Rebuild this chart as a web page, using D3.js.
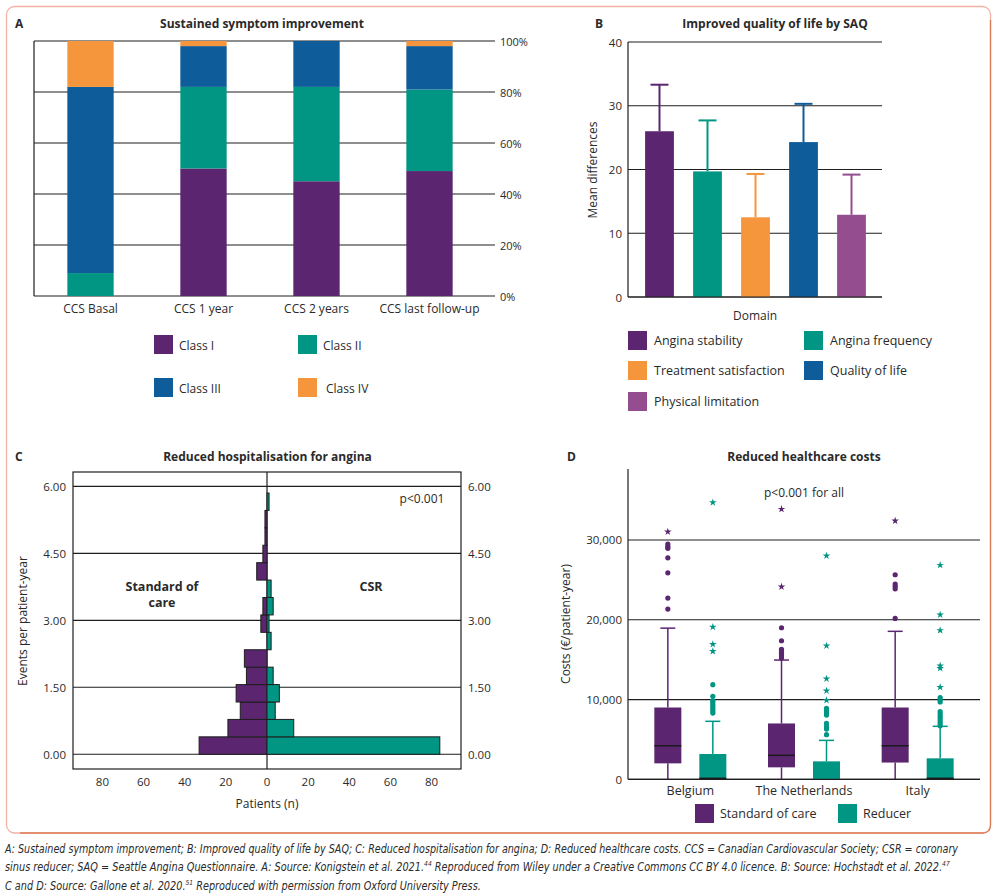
<!DOCTYPE html>
<html>
<head>
<meta charset="utf-8">
<script src="https://cdn.jsdelivr.net/npm/d3@7"></script>
<style>
  html, body { margin: 0; padding: 0; background: #fff; }
  svg { display: block; }
  text { font-family: "Open Sans", "Noto Sans", sans-serif; fill: #2a2a2a; }
</style>
</head>
<body>
<svg id="chart" width="997" height="896"></svg>
<script>
// ---------------- DATA ----------------
// Panel A
const ccsCategories = ["CCS Basal", "CCS 1 year", "CCS 2 years", "CCS last follow-up"];
const ccsClasses = ["Class I", "Class II", "Class III", "Class IV"];
const classI   = [0, 50, 45, 49];
const classII  = [9, 32, 37, 32];
const classIII = [73, 16, 18, 17];
const classIV  = [18, 2, 0, 2];
const pctTicks = [0, 20, 40, 60, 80, 100];

// Panel B
const saqDomains = ["Angina stability", "Angina frequency", "Treatment satisfaction", "Quality of life", "Physical limitation"];
const saqMeans = [26.0, 19.7, 12.5, 24.3, 12.9];
const saqUpper = [33.3, 27.7, 19.3, 30.3, 19.2];
const saqTicks = [0, 10, 20, 30, 40];

// Panel C
const hospBinWidth = 0.39;
const hospSoc = [33, 19, 13, 15, 10, 11, 0, 3, 2, 0, 5, 2, 1, 1, 0];
const hospCsr = [84, 13, 4, 6, 3, 0, 2, 1, 3, 2, 0, 0, 0, 0, 1];
const hospYTicks = [0, 1.5, 3, 4.5, 6];
const hospXTicks = [-80, -60, -40, -20, 0, 20, 40, 60, 80];

// Panel D
const countries = ["Belgium", "The Netherlands", "Italy"];
const costGroups = ["Standard of care", "Reducer"];
const costTicks = [0, 10000, 20000, 30000];
// [country][group] box stats
const boxMin    = [[0, 0], [0, 0], [0, 0]];
const boxQ1     = [[2000, 0], [1500, 0], [2100, 0]];
const boxMedian = [[4200, 120], [3000, 0], [4200, 120]];
const boxQ3     = [[9000, 3170], [7000, 2250], [9000, 2630]];
const boxMax    = [[18950, 7270], [14950, 4880], [18550, 6640]];
const outlierCircles = [
  [[21340, 22720, 25890, 27770, 28950, 29200, 29500],
   [8300, 8550, 8800, 9050, 9300, 9600, 9850, 10400, 11860]],
  [[15200, 15500, 15800, 16000, 16300, 17370, 19000],
   [5600, 6300, 6600, 7000, 8050, 8300, 8600, 8900]],
  [[20170, 23880, 24200, 24470, 25640],
   [6700, 7000, 7300, 7600, 7900, 8200, 8500, 9700, 9950, 10250]]
];
const outlierStars = [
  [[31030], [16040, 16920, 19090, 34710]],
  [[24140, 33870], [9900, 11100, 12610, 16740, 28020]],
  [[32400], [11530, 13910, 14240, 18670, 20630, 26850]]
];

// ---------------- STYLE ----------------
const PURPLE = "#5b2570", TEAL = "#009683", BLUE = "#0f5c9a", ORANGE = "#f5963c", LPURPLE = "#944d8f";
const classColors = [PURPLE, TEAL, BLUE, ORANGE];
const saqColors = [PURPLE, TEAL, ORANGE, BLUE, LPURPLE];
const groupColors = [PURPLE, TEAL];
const LINE = "#1e1e1e";

const svg = d3.select("#chart");
svg.append("rect").attr("width", 997).attr("height", 896).attr("fill", "#fff");

// Panel frame
svg.append("rect").attr("x", 6.5).attr("y", 6.5).attr("width", 984).attr("height", 826.5)
  .attr("rx", 8).attr("fill", "none").attr("stroke", "#f1b2a4").attr("stroke-width", 1.3);
svg.append("path")
  .attr("d", "M990.5,20 L990.5,825 Q990.5,833 982.5,833 L20,833")
  .attr("fill", "none").attr("stroke", "#dd7d57").attr("stroke-width", 1.3);

function title(x, y, t) {
  svg.append("text").attr("x", x).attr("y", y).attr("text-anchor", "middle")
    .attr("dominant-baseline", "central").attr("font-size", 12).attr("font-weight", 700)
    .attr("fill", "#222").text(t);
}
function letter(x, y, t) {
  svg.append("text").attr("x", x).attr("y", y).attr("dominant-baseline", "central")
    .attr("font-size", 12).attr("font-weight", 700).attr("fill", "#222").text(t);
}

// ================= PANEL A =================
{
  letter(15, 23, "A");
  title(262, 23, "Sustained symptom improvement");
  const x = d3.scaleBand().domain(ccsCategories).range([34, 486]).paddingInner(0.59).paddingOuter(0.295);
  const y = d3.scaleLinear().domain([0, 100]).range([296, 41]);
  const g = svg.append("g");
  g.selectAll("line.grid").data(pctTicks).join("line")
    .attr("x1", 34).attr("x2", 495).attr("y1", d => y(d)).attr("y2", d => y(d))
    .attr("stroke", LINE).attr("stroke-width", 1.2);
  g.append("line").attr("x1", 34).attr("x2", 34).attr("y1", y(100)).attr("y2", y(0))
    .attr("stroke", LINE).attr("stroke-width", 1.2);
  g.selectAll("text.pt").data(pctTicks).join("text")
    .attr("x", 500).attr("y", d => y(d)).attr("dominant-baseline", "central")
    .attr("font-size", 11).text(d => d + "%");
  const table = ccsCategories.map((c, i) => ({cat: c, "Class I": classI[i], "Class II": classII[i], "Class III": classIII[i], "Class IV": classIV[i]}));
  const stack = d3.stack().keys(ccsClasses)(table);
  stack.forEach((s, si) => {
    g.selectAll(null).data(s).join("rect")
      .attr("x", d => x(d.data.cat)).attr("width", x.bandwidth())
      .attr("y", d => y(d[1])).attr("height", d => y(d[0]) - y(d[1]))
      .attr("fill", classColors[si]);
  });
  g.selectAll("text.cat").data(ccsCategories).join("text")
    .attr("x", d => x(d) + x.bandwidth() / 2).attr("y", 308).attr("text-anchor", "middle")
    .attr("dominant-baseline", "central").attr("font-size", 12).text(d => d);
  const lx = [154, 298], ly = [335, 378];
  ccsClasses.forEach((c, i) => {
    const cx = lx[i % 2], cy = ly[Math.floor(i / 2)];
    g.append("rect").attr("x", cx).attr("y", cy).attr("width", 19).attr("height", 19).attr("fill", classColors[i]);
    g.append("text").attr("x", cx + 25 + (i === 3 ? 3 : 0)).attr("y", cy + 10).attr("dominant-baseline", "central")
      .attr("font-size", 12).text(c);
  });
}

// ================= PANEL B =================
{
  letter(595, 23, "B");
  title(775, 23, "Improved quality of life by SAQ");
  const x = d3.scaleBand().domain(saqDomains).range([635.5, 875.5]).paddingInner(0.4).paddingOuter(0.2);
  const y = d3.scaleLinear().domain([0, 40]).range([297, 42]);
  const g = svg.append("g");
  g.selectAll("line.grid").data(saqTicks).join("line")
    .attr("x1", 628).attr("x2", 882).attr("y1", d => y(d)).attr("y2", d => y(d))
    .attr("stroke", LINE).attr("stroke-width", 1.2);
  g.append("line").attr("x1", 628).attr("x2", 628).attr("y1", y(40)).attr("y2", y(0))
    .attr("stroke", LINE).attr("stroke-width", 1.2);
  g.selectAll("text.t").data(saqTicks).join("text")
    .attr("x", 622).attr("y", d => y(d)).attr("text-anchor", "end").attr("dominant-baseline", "central")
    .attr("font-size", 11.5).text(d => d);
  saqDomains.forEach((d, i) => {
    const cx = x(d) + x.bandwidth() / 2;
    g.append("line").attr("x1", cx).attr("x2", cx).attr("y1", y(saqMeans[i])).attr("y2", y(saqUpper[i]))
      .attr("stroke", saqColors[i]).attr("stroke-width", 2);
    g.append("line").attr("x1", cx - 9).attr("x2", cx + 9).attr("y1", y(saqUpper[i])).attr("y2", y(saqUpper[i]))
      .attr("stroke", saqColors[i]).attr("stroke-width", 2);
    g.append("rect").attr("x", x(d)).attr("width", x.bandwidth()).attr("y", y(saqMeans[i]))
      .attr("height", y(0) - y(saqMeans[i])).attr("fill", saqColors[i]);
  });
  g.append("line").attr("x1", 628).attr("x2", 882).attr("y1", y(0)).attr("y2", y(0))
    .attr("stroke", LINE).attr("stroke-width", 1.2);
  g.append("text").attr("transform", "translate(592,170) rotate(-90)").attr("text-anchor", "middle")
    .attr("dominant-baseline", "central").attr("font-size", 12).text("Mean differences");
  g.append("text").attr("x", 755).attr("y", 315).attr("text-anchor", "middle")
    .attr("dominant-baseline", "central").attr("font-size", 12).text("Domain");
  const lx = [628, 804], ly = [331, 361, 392];
  saqDomains.forEach((d, i) => {
    const cx = lx[i % 2], cy = ly[Math.floor(i / 2)];
    g.append("rect").attr("x", cx).attr("y", cy).attr("width", 19).attr("height", 19).attr("fill", saqColors[i]);
    g.append("text").attr("x", cx + 26).attr("y", cy + 9.5).attr("dominant-baseline", "central")
      .attr("font-size", 12.5).text(d);
  });
}

// ================= PANEL C =================
{
  letter(15, 456, "C");
  title(267.5, 456, "Reduced hospitalisation for angina");
  const x = d3.scaleLinear().domain([-94.3, 94.3]).range([73, 461]);
  const y = d3.scaleLinear().domain([-0.33, 6.32]).range([769, 472]);
  const g = svg.append("g");
  g.selectAll("line.grid").data(hospYTicks).join("line")
    .attr("x1", 73).attr("x2", 461).attr("y1", d => y(d)).attr("y2", d => y(d))
    .attr("stroke", LINE).attr("stroke-width", 1.2);
  g.append("line").attr("x1", x(0)).attr("x2", x(0)).attr("y1", 472).attr("y2", 769)
    .attr("stroke", LINE).attr("stroke-width", 1.2);
  const bins = hospSoc.map((v, i) => ({i, soc: v, csr: hospCsr[i]}));
  g.selectAll("rect.soc").data(bins.filter(d => d.soc > 0)).join("rect")
    .attr("x", d => x(-d.soc)).attr("width", d => x(0) - x(-d.soc))
    .attr("y", d => y((d.i + 1) * hospBinWidth)).attr("height", d => y(d.i * hospBinWidth) - y((d.i + 1) * hospBinWidth))
    .attr("fill", PURPLE).attr("stroke", LINE).attr("stroke-width", 1);
  g.selectAll("rect.csr").data(bins.filter(d => d.csr > 0)).join("rect")
    .attr("x", x(0)).attr("width", d => x(d.csr) - x(0))
    .attr("y", d => y((d.i + 1) * hospBinWidth)).attr("height", d => y(d.i * hospBinWidth) - y((d.i + 1) * hospBinWidth))
    .attr("fill", TEAL).attr("stroke", LINE).attr("stroke-width", 1);
  g.append("rect").attr("x", 73).attr("y", 472).attr("width", 388).attr("height", 297)
    .attr("fill", "none").attr("stroke", LINE).attr("stroke-width", 1.2);
  const fmt = d3.format(".2f");
  g.selectAll("text.yl").data(hospYTicks).join("text")
    .attr("x", 66).attr("y", d => y(d)).attr("text-anchor", "end").attr("dominant-baseline", "central")
    .attr("font-size", 11.5).text(d => fmt(d));
  g.selectAll("text.yr").data(hospYTicks).join("text")
    .attr("x", 468).attr("y", d => y(d)).attr("dominant-baseline", "central")
    .attr("font-size", 11.5).text(d => fmt(d));
  g.selectAll("text.xl").data(hospXTicks).join("text")
    .attr("x", d => x(d)).attr("y", 781).attr("text-anchor", "middle").attr("dominant-baseline", "central")
    .attr("font-size", 11.5).text(d => Math.abs(d));
  g.append("text").attr("x", x(0)).attr("y", 803).attr("text-anchor", "middle").attr("dominant-baseline", "central")
    .attr("font-size", 12).text("Patients (n)");
  g.append("text").attr("transform", "translate(22,621) rotate(-90)").attr("text-anchor", "middle")
    .attr("dominant-baseline", "central").attr("font-size", 12).text("Events per patient-year");
  g.append("text").attr("x", 162).attr("y", 586).attr("text-anchor", "middle").attr("dominant-baseline", "central")
    .attr("font-size", 12.5).attr("font-weight", 700).text("Standard of");
  g.append("text").attr("x", 162).attr("y", 602).attr("text-anchor", "middle").attr("dominant-baseline", "central")
    .attr("font-size", 12.5).attr("font-weight", 700).text("care");
  g.append("text").attr("x", 371).attr("y", 586).attr("text-anchor", "middle").attr("dominant-baseline", "central")
    .attr("font-size", 12.5).attr("font-weight", 700).text("CSR");
  g.append("text").attr("x", 422).attr("y", 498).attr("text-anchor", "middle").attr("dominant-baseline", "central")
    .attr("font-size", 12).text("p<0.001");
}

// ================= PANEL D =================
{
  letter(567, 456, "D");
  title(804, 456, "Reduced healthcare costs");
  const x = d3.scaleBand().domain(countries).range([633.5, 974.5]);
  const sub = d3.scalePoint().domain(costGroups).range([-22.5, 22.5]);
  const y = d3.scaleLinear().domain([0, 38900]).range([779.3, 469]);
  const g = svg.append("g");
  g.selectAll("line.grid").data(costTicks).join("line")
    .attr("x1", 628).attr("x2", 980).attr("y1", d => y(d)).attr("y2", d => y(d))
    .attr("stroke", LINE).attr("stroke-width", 1.2);
  g.append("line").attr("x1", 628).attr("x2", 628).attr("y1", 469).attr("y2", y(0))
    .attr("stroke", LINE).attr("stroke-width", 1.2);
  g.selectAll("text.t").data(costTicks).join("text")
    .attr("x", 622).attr("y", d => y(d)).attr("text-anchor", "end").attr("dominant-baseline", "central")
    .attr("font-size", 11.5).text(d => d3.format(",")(d));
  const bw = 27;
  const star = d3.symbol().type(d3.symbolStar).size(18);
  countries.forEach((c, ci) => {
    const gc = x(c) + x.bandwidth() / 2;
    costGroups.forEach((grp, gi) => {
      const cx = gc + sub(grp);
      const col = groupColors[gi];
      g.append("line").attr("x1", cx).attr("x2", cx).attr("y1", y(boxQ3[ci][gi])).attr("y2", y(boxMax[ci][gi]))
        .attr("stroke", col).attr("stroke-width", 1.5);
      g.append("line").attr("x1", cx - 7.5).attr("x2", cx + 7.5).attr("y1", y(boxMax[ci][gi])).attr("y2", y(boxMax[ci][gi]))
        .attr("stroke", col).attr("stroke-width", 1.5);
      if (boxQ1[ci][gi] > boxMin[ci][gi]) {
        g.append("line").attr("x1", cx).attr("x2", cx).attr("y1", y(boxMin[ci][gi])).attr("y2", y(boxQ1[ci][gi]))
          .attr("stroke", col).attr("stroke-width", 1.5);
      }
      g.append("rect").attr("x", cx - bw / 2).attr("width", bw).attr("y", y(boxQ3[ci][gi]))
        .attr("height", y(boxQ1[ci][gi]) - y(boxQ3[ci][gi])).attr("fill", col);
      if (boxMedian[ci][gi] > 0) {
        g.append("line").attr("x1", cx - bw / 2).attr("x2", cx + bw / 2).attr("y1", y(boxMedian[ci][gi])).attr("y2", y(boxMedian[ci][gi]))
          .attr("stroke", "#1a1a1a").attr("stroke-width", 1.5);
      }
      g.selectAll(null).data(outlierCircles[ci][gi]).join("circle")
        .attr("cx", cx).attr("cy", d => y(d)).attr("r", 2.6).attr("fill", col);
      g.selectAll(null).data(outlierStars[ci][gi]).join("path")
        .attr("transform", d => `translate(${cx},${y(d)})`).attr("d", star).attr("fill", col);
    });
  });
  g.append("line").attr("x1", 628).attr("x2", 980).attr("y1", y(0)).attr("y2", y(0))
    .attr("stroke", LINE).attr("stroke-width", 1.2);
  g.selectAll("text.c").data(countries).join("text")
    .attr("x", d => x(d) + x.bandwidth() / 2).attr("y", 790).attr("text-anchor", "middle")
    .attr("dominant-baseline", "central").attr("font-size", 12.5).text(d => d);
  g.append("text").attr("transform", "translate(565,624) rotate(-90)").attr("text-anchor", "middle")
    .attr("dominant-baseline", "central").attr("font-size", 12).text("Costs (€/patient-year)");
  g.append("text").attr("x", 804).attr("y", 492).attr("text-anchor", "middle").attr("dominant-baseline", "central")
    .attr("font-size", 12).text("p<0.001 for all");
  const lx = [695, 838];
  costGroups.forEach((grp, i) => {
    g.append("rect").attr("x", lx[i]).attr("y", 804).attr("width", 19).attr("height", 19).attr("fill", groupColors[i]);
    g.append("text").attr("x", lx[i] + 25).attr("y", 813.5).attr("dominant-baseline", "central")
      .attr("font-size", 12.5).text(grp);
  });
}

// ================= CAPTION =================
{
  const lines = [
    [["A: Sustained symptom improvement; B: Improved quality of life by SAQ; C: Reduced hospitalisation for angina; D: Reduced healthcare costs. CCS = Canadian Cardiovascular Society; CSR = coronary", false]],
    [["sinus reducer; SAQ = Seattle Angina Questionnaire. A: Source: Konigstein et al. 2021.", false], ["44", true],
     [" Reproduced from Wiley under a Creative Commons CC BY 4.0 licence. B: Source: Hochstadt et al. 2022.", false], ["47", true]],
    [["C and D: Source: Gallone et al. 2020.", false], ["51", true], [" Reproduced with permission from Oxford University Press.", false]]
  ];
  const ys = [853, 871.5, 890];
  const targetW = [953, 945, 476];
  lines.forEach((parts, li) => {
    const wrap = svg.append("g");
    const t = wrap.append("text").attr("x", 0).attr("y", ys[li])
      .attr("font-style", "italic")
      .style("font-family", '"Liberation Sans Narrow", "DejaVu Sans Condensed", "Liberation Sans", sans-serif')
      .attr("font-size", 11.4).attr("fill", "#4a4a4a");
    let prevSup = false;
    parts.forEach(([s, sup]) => {
      const ts = t.append("tspan").text(s);
      if (sup) { ts.attr("font-size", 7).attr("dy", -5); }
      else if (prevSup) { ts.attr("dy", 5); }
      prevSup = sup;
    });
    const w = t.node().getComputedTextLength();
    const k = targetW[li] / w;
    wrap.attr("transform", `translate(5,0) scale(${k},1)`);
  });
}
</script>
</body>
</html>
